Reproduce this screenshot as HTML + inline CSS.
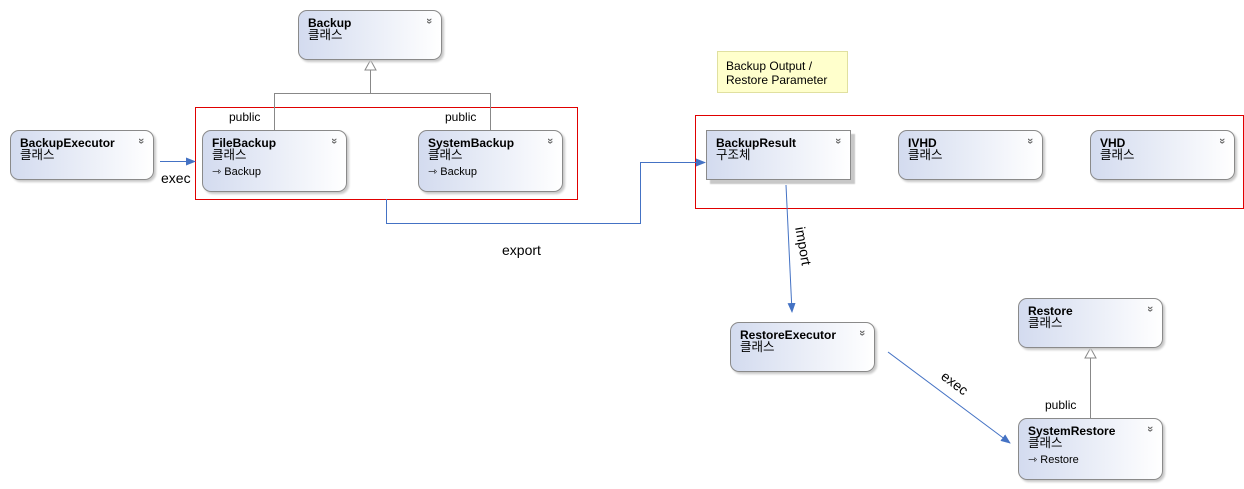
<!DOCTYPE html>
<html><head><meta charset="utf-8"><style>
body{margin:0;width:1244px;height:489px;background:#fff;position:relative;overflow:hidden;font-family:"Liberation Sans","Noto Sans CJK KR",sans-serif;}
.n{position:absolute;box-sizing:border-box;border:1px solid #8a8a8a;border-radius:9px;background:linear-gradient(to right,#d3dbef,#ffffff);box-shadow:2px 2px 2px #c8c8c8;padding:6px 0 0 9px;font-size:12px;line-height:12px;color:#000;}
.n b{font-size:12px;display:block}
.n .k{display:block;font-size:12.5px}
.n .s{font-size:11px;display:block;margin-top:5px}
.n i{position:absolute;right:9px;top:4px;font-style:normal;font-size:11px;color:#666;font-weight:bold;transform:rotate(90deg);}
.sq{border-radius:0;box-shadow:4px 4px 1px #c8c8c8;}
.t{position:absolute;font-size:12px;color:#000;}
svg{position:absolute;left:0;top:0}
</style></head><body>
<svg width="1244" height="489">
<defs><marker id="a" markerWidth="10" markerHeight="8" refX="9" refY="4" orient="auto" markerUnits="userSpaceOnUse"><path d="M0,0 L10,4 L0,8 Z" fill="#4472c4"/></marker></defs>
<rect x="195.5" y="107.5" width="382" height="92" fill="none" stroke="#e00000"/>
<rect x="695.5" y="115.5" width="548" height="93" fill="none" stroke="#e00000"/>
<g stroke="#888" fill="none">
<path d="M370.5 70 V93.5 M274.5 130 V93.5 H490.5 V130"/>
<path d="M365 70 L370.5 60 L376 70 Z" fill="#fff"/>
<path d="M1090.5 358 V418"/>
<path d="M1085 358 L1090.5 348 L1096 358 Z" fill="#fff"/>
</g>
<g stroke="#4472c4" fill="none" stroke-width="1">
<path d="M160 161.5 H195" marker-end="url(#a)"/>
<path d="M386.5 199 V223.5 H640.5 V162.5 H705" marker-end="url(#a)"/>
<path d="M786 185 L792 312" marker-end="url(#a)"/>
<path d="M888 352 L1010 443" marker-end="url(#a)"/>
</g>
</svg>
<div class="n" style="left:298px;top:10px;width:144px;height:50px"><b>Backup</b><span class="k">클래스</span><i>»</i></div>
<div class="n" style="left:10px;top:130px;width:144px;height:50px"><b>BackupExecutor</b><span class="k">클래스</span><i>»</i></div>
<div class="n" style="left:202px;top:130px;width:145px;height:62px"><b>FileBackup</b><span class="k">클래스</span><span class="s">⇾ Backup</span><i>»</i></div>
<div class="n" style="left:418px;top:130px;width:145px;height:62px"><b>SystemBackup</b><span class="k">클래스</span><span class="s">⇾ Backup</span><i>»</i></div>
<div class="n sq" style="left:706px;top:130px;width:145px;height:50px"><b>BackupResult</b><span class="k">구조체</span><i>»</i></div>
<div class="n" style="left:898px;top:130px;width:145px;height:50px"><b>IVHD</b><span class="k">클래스</span><i>»</i></div>
<div class="n" style="left:1090px;top:130px;width:145px;height:50px"><b>VHD</b><span class="k">클래스</span><i>»</i></div>
<div class="n" style="left:730px;top:322px;width:145px;height:50px"><b>RestoreExecutor</b><span class="k">클래스</span><i>»</i></div>
<div class="n" style="left:1018px;top:298px;width:145px;height:50px"><b>Restore</b><span class="k">클래스</span><i>»</i></div>
<div class="n" style="left:1018px;top:418px;width:145px;height:62px"><b>SystemRestore</b><span class="k">클래스</span><span class="s">⇾ Restore</span><i>»</i></div>
<div style="position:absolute;left:717px;top:51px;width:131px;height:42px;box-sizing:border-box;background:#ffffcc;border:1px solid #e0e0a0;font-size:12px;line-height:14px;padding:7px 0 0 8px">Backup Output /<br>Restore Parameter</div>
<div class="t" style="left:229px;top:110px">public</div>
<div class="t" style="left:445px;top:110px">public</div>
<div class="t" style="left:1045px;top:398px">public</div>
<div class="t" style="left:161px;top:170px;font-size:14px">exec</div>
<div class="t" style="left:502px;top:242px;font-size:14px">export</div>
<div class="t" style="left:784px;top:238px;font-size:14px;transform:rotate(80deg);transform-origin:center">import</div>
<div class="t" style="left:940px;top:375px;font-size:14px;transform:rotate(37deg)">exec</div>
</body></html>
